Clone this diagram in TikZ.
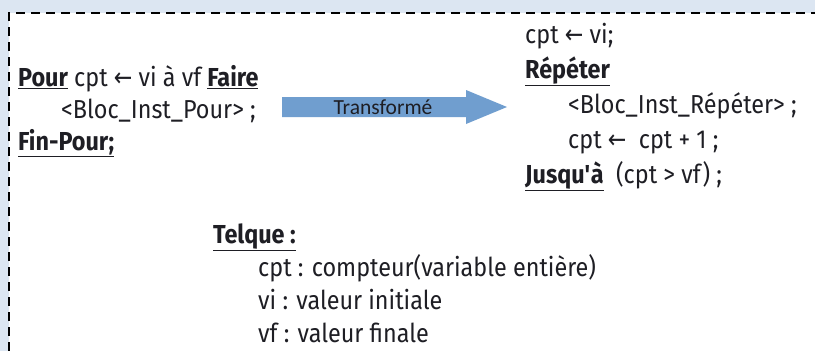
\documentclass[tikz,border=0pt]{standalone}
\usepackage{fontspec}
\setmainfont[FakeStretch=0.9]{Fira Sans}
\newfontfamily\arrowfont[FakeStretch=0.85]{DejaVu Sans}
\newfontfamily\calfont{Carlito}
\definecolor{bgblue}{RGB}{220,230,242}
\definecolor{arrblue}{RGB}{112,158,207}
\definecolor{txt}{RGB}{30,30,36}
\newcommand{\la}{{\arrowfont\char"2190}}
\newcommand{\kw}[1]{\underline{\textbf{#1}}}
\newcommand{\sq}{\XeTeXglyph\XeTeXglyphindex "quotesingle"\relax}
\tikzset{
  code/.style={anchor=base west, inner sep=0pt, text=txt, font=\fontsize{26}{30}\selectfont},
  lbl/.style={inner sep=0pt, text=txt, font=\calfont\fontsize{21.5}{25}\selectfont}
}
\begin{document}
\begin{tikzpicture}[x=1pt,y=-1pt]
\useasboundingbox (0,0) rectangle (815,351);
\fill[bgblue] (0,0) rectangle (815,351);
\fill[white] (9,13) rectangle (815,351);
\draw[black, line width=1.5pt, dash pattern=on 9pt off 6pt] (9,351) -- (9,13) -- (815,13);
% left block
\node[code] (pour) at (18,86) {\kw{Pour} cpt \la{} vi à vf \kw{Faire}};
\node[code] (blocp) at (61,118) {<Bloc\_Inst\_Pour> ;};
\node[code] (finp) at (18,150) {\kw{Fin-Pour;}};
% arrow
\fill[arrblue] (282,97) -- (466,97) -- (466,90) -- (507,107) -- (466,124) -- (466,117) -- (282,117) -- cycle;
\node[lbl] (tr) at (383,107) {Transformé};
% right block
\node[code] (init) at (525,43) {cpt \la{} vi;};
\node[code] (rep) at (525,78) {\kw{Répéter}};
\node[code] (blocr) at (568,113) {<Bloc\_Inst\_Répéter> ;};
\node[code] (incr) at (568,148) {cpt \la{}\ \ cpt + 1 ;};
\node[code] (jus) at (525,183) {\kw{Jusqu\sq à}\ \ (cpt > vf) ;};
% legend
\node[code] (tq) at (213,243) {\kw{Telque :}};
\node[code] (l1) at (258,276) {cpt : compteur(variable entière)};
\node[code] (l2) at (258,309) {vi : valeur initiale};
\node[code] (l3) at (258,342) {vf : valeur finale};
\end{tikzpicture}
\end{document}
